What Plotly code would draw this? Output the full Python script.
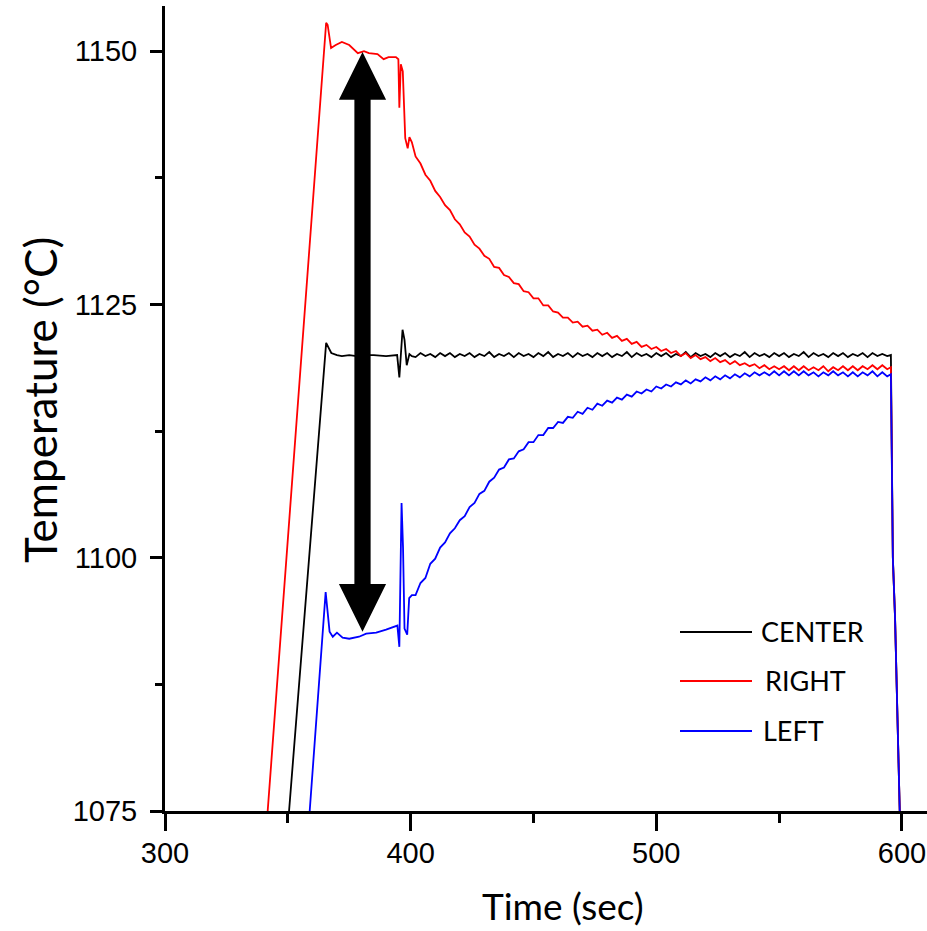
import plotly.graph_objects as go

# ---------------- data ----------------
GRID_T = list(range(402, 596, 2))  # sampling grid for the noisy part

CENTER_T_EARLY = [348.9, 350.5, 365.6, 367.7, 370, 372, 375, 378, 381, 385,
                  390, 394.5, 395.4, 396.0, 396.7, 397.5, 398.4, 399.5, 400.5]
CENTER_V_EARLY = [1070, 1075, 1121.2, 1120.2, 1120.0, 1119.9, 1120.0, 1119.9, 1120.0, 1120.0,
                  1119.9, 1120.0, 1117.8, 1120.0, 1122.5, 1121.5, 1119.0, 1120.1, 1119.9]
CENTER_V_GRID = [
    1119.8, 1120.2, 1119.9, 1120.1, 1119.8, 1120.2, 1119.9, 1120.2, 1119.8, 1120.1,
    1119.9, 1120.2, 1119.8, 1120.1, 1119.9, 1120.3, 1119.8, 1120.1, 1119.9, 1120.2,
    1119.8, 1120.2, 1119.9, 1120.1, 1119.8, 1120.2, 1119.9, 1120.3, 1119.8, 1120.1,
    1119.9, 1120.2, 1119.8, 1120.2, 1119.9, 1120.1, 1119.8, 1120.2, 1119.9, 1120.2,
    1119.8, 1120.1, 1119.9, 1120.3, 1119.8, 1120.2, 1119.9, 1120.1, 1119.8, 1120.2,
    1119.9, 1120.2, 1119.8, 1120.1, 1119.9, 1120.3, 1119.8, 1120.2, 1119.9, 1120.1,
    1119.8, 1120.2, 1119.9, 1120.2, 1119.8, 1120.1, 1119.9, 1120.3, 1119.8, 1120.2,
    1119.9, 1120.1, 1119.8, 1120.2, 1119.9, 1120.2, 1119.8, 1120.1, 1119.9, 1120.3,
    1119.8, 1120.2, 1119.9, 1120.1, 1119.8, 1120.2, 1119.9, 1120.2, 1119.8, 1120.1,
    1119.9, 1120.2, 1119.8, 1120.2, 1119.9, 1120.1, 1119.9]
CENTER_T_TAIL = [595.5, 596.3, 597.2, 598.2, 599.2, 599.6]
CENTER_V_TAIL = [1120.0, 1100, 1094, 1084, 1075, 1070]

RIGHT_T_EARLY = [340.3, 341.8, 365.6, 366.2, 367.6, 369.5, 372, 375, 378.5, 381,
                 383, 386.5, 389, 391, 394, 395.0, 395.4, 396.0, 396.8, 397.3,
                 397.8, 398.8, 399.5, 400.5]
RIGHT_V_EARLY = [1070, 1075, 1152.8, 1152.6, 1150.3, 1150.6, 1150.9, 1150.6, 1149.8, 1150.0,
                 1149.8, 1149.7, 1149.2, 1149.4, 1149.4, 1149.2, 1144.4, 1148.7, 1148.0, 1144.5,
                 1141.4, 1140.4, 1141.5, 1141.0]
RIGHT_V_GRID = [
    1139.6, 1138.9, 1137.8, 1137.2, 1136.2, 1135.6, 1134.8, 1134.3, 1133.4, 1132.9,
    1132.1, 1131.7, 1130.9, 1130.5, 1129.8, 1129.5, 1128.7, 1128.6, 1127.9, 1127.7,
    1127.1, 1127.0, 1126.3, 1126.2, 1125.6, 1125.6, 1124.9, 1124.9, 1124.3, 1124.2,
    1123.7, 1123.7, 1123.2, 1123.3, 1122.8, 1122.9, 1122.4, 1122.5, 1122.0, 1122.2,
    1121.7, 1121.9, 1121.4, 1121.6, 1121.1, 1121.3, 1120.8, 1121.0, 1120.6, 1120.8,
    1120.4, 1120.6, 1120.2, 1120.4, 1119.9, 1120.2, 1119.7, 1120.0, 1119.6, 1119.8,
    1119.4, 1119.7, 1119.3, 1119.5, 1119.1, 1119.4, 1119.0, 1119.2, 1118.9, 1119.1,
    1118.7, 1119.0, 1118.6, 1118.9, 1118.6, 1118.9, 1118.5, 1118.9, 1118.5, 1118.9,
    1118.5, 1118.8, 1118.5, 1118.9, 1118.4, 1118.8, 1118.5, 1118.9, 1118.5, 1118.9,
    1118.5, 1118.9, 1118.6, 1119.0, 1118.6, 1119.0, 1118.6]
RIGHT_T_TAIL = [595.5, 596.3, 597.2, 598.2, 599.2, 599.6]
RIGHT_V_TAIL = [1118.8, 1100, 1094, 1084, 1075, 1070]

LEFT_T_EARLY = [357.4, 358.9, 365.4, 367, 368.3, 370, 372.3, 375, 379, 381.9,
                386, 390, 392.7, 394.6, 395.4, 396.3, 396.9, 397.5, 398.6, 399.4,
                400.5]
LEFT_V_EARLY = [1070, 1075, 1096.6, 1092.7, 1092.2, 1092.6, 1092.1, 1092.0, 1092.2, 1092.5,
                1092.6, 1092.9, 1093.1, 1093.3, 1091.2, 1105.4, 1101.0, 1093.0, 1092.4, 1096.0,
                1096.3]
LEFT_V_GRID = [
    1096.3, 1097.5, 1098.0, 1099.4, 1099.9, 1101.0, 1101.5, 1102.4, 1102.9, 1103.7,
    1104.1, 1105.0, 1105.4, 1106.3, 1106.6, 1107.5, 1107.9, 1108.7, 1108.9, 1109.7,
    1109.8, 1110.5, 1110.7, 1111.4, 1111.4, 1112.1, 1112.1, 1112.8, 1112.8, 1113.4,
    1113.3, 1113.9, 1113.8, 1114.4, 1114.2, 1114.8, 1114.6, 1115.2, 1115.0, 1115.5,
    1115.3, 1115.8, 1115.6, 1116.1, 1115.9, 1116.4, 1116.2, 1116.6, 1116.4, 1116.9,
    1116.7, 1117.1, 1116.9, 1117.3, 1117.1, 1117.5, 1117.2, 1117.6, 1117.4, 1117.8,
    1117.5, 1117.9, 1117.6, 1118.0, 1117.7, 1118.1, 1117.8, 1118.2, 1117.9, 1118.3,
    1118.0, 1118.3, 1118.0, 1118.4, 1118.0, 1118.4, 1118.0, 1118.4, 1118.0, 1118.4,
    1118.0, 1118.3, 1117.9, 1118.3, 1118.0, 1118.4, 1118.0, 1118.3, 1117.9, 1118.3,
    1117.9, 1118.3, 1118.0, 1118.4, 1117.9, 1118.3, 1117.9]
LEFT_T_TAIL = [595.5, 596.3, 597.2, 598.2, 599.2, 599.6]
LEFT_V_TAIL = [1118.1, 1100, 1094, 1084, 1075, 1070]

SERIES_NAMES = ["CENTER", "RIGHT", "LEFT"]
SERIES_COLORS = ["#000000", "#ff0000", "#0000ff"]

X_TICKS = [300, 400, 500, 600]
Y_TICKS = [1075, 1100, 1125, 1150]
X_RANGE = [300, 610.2]
Y_RANGE = [1075, 1154.45]

# double-headed arrow (data coordinates)
ARROW_X = 380.4
ARROW_TOP = 1149.9
ARROW_BOTTOM = 1092.7
ARROW_HEAD_LEN = 4.7
ARROW_HEAD_HALF = 9.6
ARROW_SHAFT_HALF = 3.3

# ---------------- figure ----------------
W, H = 927, 931
ML, MR, MT, MB = 165, 0, 6, 120
PW, PH = W - ML - MR, H - MT - MB


def px_x(p):
    return (p - ML) / PW


def px_y(p):
    return (H - MB - p) / PH


series = [
    (CENTER_T_EARLY + GRID_T + CENTER_T_TAIL, CENTER_V_EARLY + CENTER_V_GRID + CENTER_V_TAIL),
    (RIGHT_T_EARLY + GRID_T + RIGHT_T_TAIL, RIGHT_V_EARLY + RIGHT_V_GRID + RIGHT_V_TAIL),
    (LEFT_T_EARLY + GRID_T + LEFT_T_TAIL, LEFT_V_EARLY + LEFT_V_GRID + LEFT_V_TAIL),
]

fig = go.Figure()
for (t, v), name, col in zip(series, SERIES_NAMES, SERIES_COLORS):
    fig.add_trace(go.Scatter(x=t, y=v, mode="lines", name=name,
                             line=dict(color=col, width=1.8), showlegend=False))

tick_font = dict(family="Liberation Sans, Arial, sans-serif", size=29, color="#000")
title_font = "Lato, Carlito, Calibri, sans-serif"

fig.update_layout(
    width=W, height=H,
    margin=dict(l=ML, r=MR, t=MT, b=MB, pad=0),
    paper_bgcolor="white", plot_bgcolor="white",
    xaxis=dict(range=X_RANGE, tickvals=X_TICKS, ticktext=[str(v) for v in X_TICKS],
               showgrid=False, zeroline=False, showline=True, linecolor="#000",
               linewidth=3, ticks="outside", ticklen=17, tickwidth=3, tickcolor="#000",
               tickfont=tick_font, automargin=False, ticklabeloverflow="allow",
               ticklabelstandoff=-3,
               minor=dict(dtick=50, ticks="outside", ticklen=9, tickwidth=3,
                          tickcolor="#000", showgrid=False)),
    yaxis=dict(range=Y_RANGE, tickvals=Y_TICKS, ticktext=[str(v) for v in Y_TICKS],
               showgrid=False, zeroline=False, showline=True, linecolor="#000",
               linewidth=3, ticks="outside", ticklen=12, tickwidth=3, tickcolor="#000",
               tickfont=tick_font, automargin=False, ticklabelstandoff=7,
               ticklabeloverflow="allow",
               minor=dict(dtick=12.5, tick0=1075, ticks="outside", ticklen=7, tickwidth=3,
                          tickcolor="#000", showgrid=False)),
)

# axis titles
fig.add_annotation(text="Time (sec)", xref="paper", yref="paper",
                   x=px_x(563), y=px_y(906), xanchor="center", yanchor="middle",
                   showarrow=False, font=dict(family=title_font, size=37, color="#000"))
fig.add_annotation(text="Temperature (°C)", xref="paper", yref="paper",
                   x=px_x(40), y=px_y(400), xanchor="center", yanchor="middle",
                   textangle=-90, showarrow=False,
                   font=dict(family=title_font, size=44, color="#000"))

# arrow
path = (f"M {ARROW_X} {ARROW_TOP} "
        f"L {ARROW_X + ARROW_HEAD_HALF} {ARROW_TOP - ARROW_HEAD_LEN} "
        f"L {ARROW_X + ARROW_SHAFT_HALF} {ARROW_TOP - ARROW_HEAD_LEN} "
        f"L {ARROW_X + ARROW_SHAFT_HALF} {ARROW_BOTTOM + ARROW_HEAD_LEN} "
        f"L {ARROW_X + ARROW_HEAD_HALF} {ARROW_BOTTOM + ARROW_HEAD_LEN} "
        f"L {ARROW_X} {ARROW_BOTTOM} "
        f"L {ARROW_X - ARROW_HEAD_HALF} {ARROW_BOTTOM + ARROW_HEAD_LEN} "
        f"L {ARROW_X - ARROW_SHAFT_HALF} {ARROW_BOTTOM + ARROW_HEAD_LEN} "
        f"L {ARROW_X - ARROW_SHAFT_HALF} {ARROW_TOP - ARROW_HEAD_LEN} "
        f"L {ARROW_X - ARROW_HEAD_HALF} {ARROW_TOP - ARROW_HEAD_LEN} Z")
fig.add_shape(type="path", path=path, xref="x", yref="y",
              fillcolor="#000", line=dict(color="#000", width=0), layer="above")

# legend (manual)
LEG_Y = [632, 681, 731]
LEG_TEXT_X = [759, 763, 761]
for name, col, yy, tx in zip(SERIES_NAMES, SERIES_COLORS, LEG_Y, LEG_TEXT_X):
    fig.add_shape(type="line", xref="paper", yref="paper",
                  x0=px_x(680), x1=px_x(752), y0=px_y(yy), y1=px_y(yy),
                  line=dict(color=col, width=2))
    fig.add_annotation(text=name, xref="paper", yref="paper",
                       x=px_x(tx), y=px_y(yy - 1), xanchor="left", yanchor="middle",
                       showarrow=False,
                       font=dict(family=title_font, size=27, color="#000"))

fig.write_html("out.html")
